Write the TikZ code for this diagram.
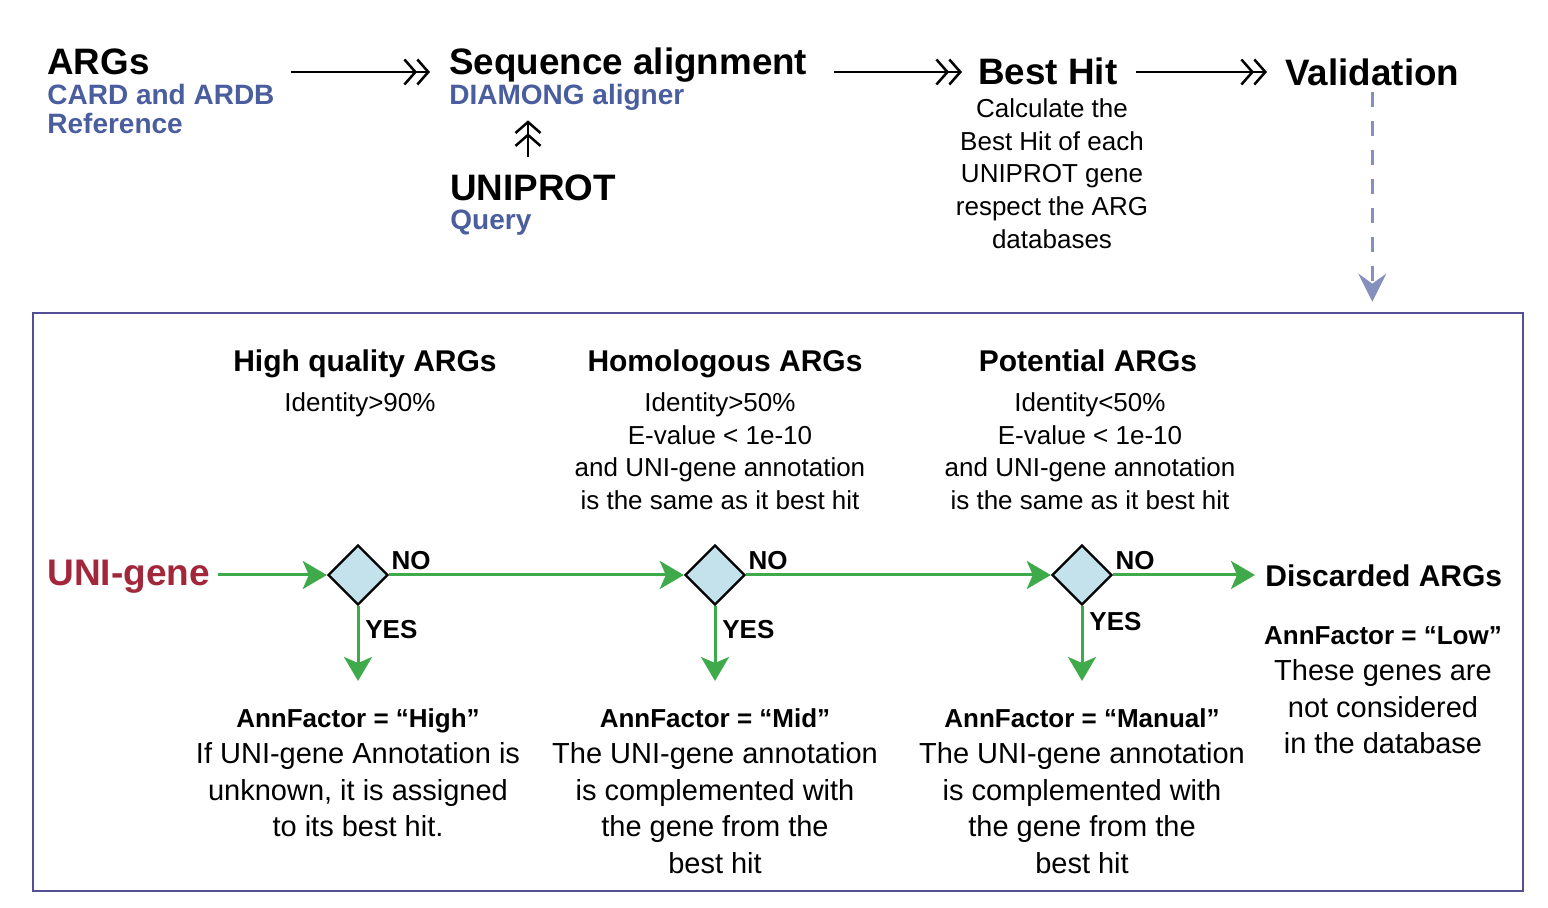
\documentclass[tikz,border=0pt]{standalone}
\usepackage{fontspec}
\setmainfont{Liberation Sans}
\usepackage{tikz}
\usetikzlibrary{arrows.meta}
\usetikzlibrary{shapes.geometric, positioning, calc}
\usepackage{xcolor}

\definecolor{refblue}{HTML}{4A5D9E}
\definecolor{genered}{HTML}{A3273A}
\definecolor{flowgreen}{HTML}{3FAA4A}
\definecolor{diamfill}{HTML}{C4E2EB}
\definecolor{framecol}{HTML}{544F94}
\definecolor{dashcol}{HTML}{8590BF}

\tikzset{
  title/.style={font=\fontsize{18.4}{20}\selectfont\bfseries, inner sep=0pt},
  sub/.style={font=\fontsize{14}{14.5}\selectfont\bfseries, text=refblue, inner sep=0pt},
  head/.style={font=\fontsize{15}{18}\selectfont\bfseries, inner sep=0pt},
  cond/.style={font=\fontsize{13}{16.4}\selectfont, align=center, inner sep=0pt},
  ann/.style={font=\fontsize{14.5}{18.25}\selectfont, align=center, inner sep=0pt},
  lbl/.style={font=\fontsize{13}{15}\selectfont\bfseries, inner sep=0pt},
  gene/.style={font=\fontsize{18.5}{20}\selectfont\bfseries, text=genered, inner sep=0pt},
  decision/.style={diamond, draw, line width=1.2pt, fill=diamfill, minimum size=30pt, inner sep=0pt},
  frame/.style={draw=framecol, line width=1.35pt, inner sep=0pt},
  dblarrow/.style={line width=1.25pt, -{Straight Barb[length=5.5pt,width=12.5pt,sep=-0.5pt]Straight Barb[length=5.5pt,width=12.5pt]}},
  flow/.style={draw=flowgreen, line width=1.5pt, -{Stealth[length=12pt,width=14pt,inset=3pt]}},
  vflow/.style={draw=dashcol, line width=1.3pt, dash pattern=on 7.5pt off 7pt, -{Stealth[length=14pt,width=14pt,inset=5pt]}}
}

\begin{document}
\begin{tikzpicture}[x=0.5pt, y=-0.5pt]
  \useasboundingbox (0,0) rectangle (1548,908);

  \node[title, anchor=base west] (args) at (47,75) {ARGs};
  \node[sub, anchor=north west, align=left] (argsref) at (47,84) {CARD and ARDB\\Reference};
  \node[title, anchor=base west] (seq) at (449,75) {Sequence alignment};
  \node[sub, anchor=base west] (diam) at (449,105) {DIAMONG aligner};
  \node[title, anchor=base west] (uni) at (450,201) {UNIPROT};
  \node[sub, anchor=base west] (query) at (450,230) {Query};
  \node[title, anchor=base west] (bh) at (978,85) {Best Hit};
  \node[cond, anchor=north] (bhdesc) at (1052,98) {Calculate the\\Best Hit of each\\UNIPROT gene\\respect the ARG\\databases};
  \node[title, anchor=base west] (val) at (1285,86) {Validation};

  \coordinate (row) at (0,72);
  \coordinate (upx) at (528,0);
  \draw[dblarrow, shorten <=8pt, shorten >=9.5pt] (argsref.east |- row) -- (seq.west |- row);
  \draw[dblarrow, shorten <=13pt, shorten >=8pt] (seq.east |- row) -- (bh.west |- row);
  \draw[dblarrow, shorten <=9pt, shorten >=9pt] (bh.east |- row) -- (val.west |- row);
  \draw[dblarrow, shorten <=9pt, shorten >=4.5pt] (uni.north -| upx) -- (diam.south -| upx);

  \node[frame, minimum width=745pt, minimum height=289pt] (box) at (778,602) {};
  \draw[vflow, shorten <=2.5pt, shorten >=5pt] (val.south) -- (box.north -| val.south);

  \node[head, anchor=base] (hq) at (365,372) {High quality ARGs};
  \node[cond, anchor=north] (hqc) at (360,392) {Identity>90\%};
  \node[head, anchor=base] (hom) at (725,372) {Homologous ARGs};
  \node[cond, anchor=north] (homc) at (720,392) {Identity>50\%\\E-value < 1e-10\\and UNI-gene annotation\\is the same as it best hit};
  \node[head, anchor=base] (pot) at (1088,372) {Potential ARGs};
  \node[cond, anchor=north] (potc) at (1090,392) {Identity<50\%\\E-value < 1e-10\\and UNI-gene annotation\\is the same as it best hit};

  \node[gene, anchor=base west] (gene) at (47,586) {UNI-gene};
  \node[decision] (d1) at (358,575) {};
  \node[decision] (d2) at (715,575) {};
  \node[decision] (d3) at (1082,575) {};
  \node[head, anchor=west] (disc) at (1265,576) {Discarded ARGs};

  \draw[flow, shorten <=4pt] (gene.east |- d1.west) -- (d1.west);
  \draw[flow] (d1) -- (d2);
  \draw[flow] (d2) -- (d3);
  \draw[flow, shorten >=5pt] (d3) -- (disc.west |- d3);

  \node[lbl, anchor=base west] (no1) at ([shift={(1pt,2.5pt)}]d1.east) {NO};
  \node[lbl, anchor=base west] (no2) at ([shift={(1pt,2.5pt)}]d2.east) {NO};
  \node[lbl, anchor=base west] (no3) at ([shift={(1pt,2.5pt)}]d3.east) {NO};
  \node[lbl, anchor=base west] (yes1) at ([shift={(3.5pt,-16pt)}]d1.south) {YES};
  \node[lbl, anchor=base west] (yes2) at ([shift={(3.5pt,-16pt)}]d2.south) {YES};
  \node[lbl, anchor=base west] (yes3) at ([shift={(3.5pt,-12pt)}]d3.south) {YES};

  \node[ann, anchor=north] (ann1) at (358,708) {{\fontsize{13}{18.25}\selectfont\bfseries AnnFactor = “High”}\\If UNI-gene Annotation is\\unknown, it is assigned\\to its best hit.};
  \node[ann, anchor=north] (ann2) at (715,708) {{\fontsize{13}{18.25}\selectfont\bfseries AnnFactor = “Mid”}\\The UNI-gene annotation\\is complemented with\\the gene from the\\best hit};
  \node[ann, anchor=north] (ann3) at (1082,708) {{\fontsize{13}{18.25}\selectfont\bfseries AnnFactor = “Manual”}\\The UNI-gene annotation\\is complemented with\\the gene from the\\best hit};
  \node[ann, anchor=north] (ann4) at (1383,626) {{\fontsize{13}{18.25}\selectfont\bfseries AnnFactor = “Low”}\\These genes are\\not considered\\in the database};

  \draw[flow, shorten >=13.5pt] (d1) -- (ann1);
  \draw[flow, shorten >=13.5pt] (d2) -- (ann2);
  \draw[flow, shorten >=13.5pt] (d3) -- (ann3);
\end{tikzpicture}
\end{document}
